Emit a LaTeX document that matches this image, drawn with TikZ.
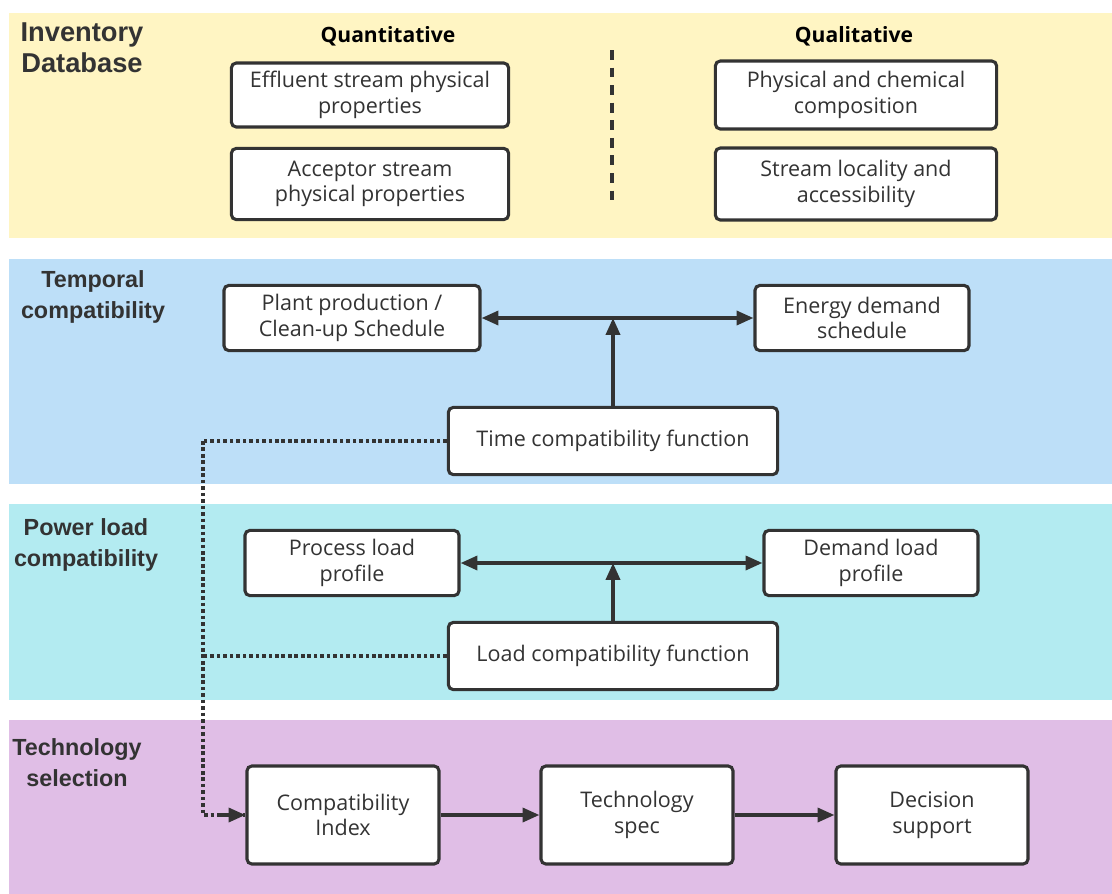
\documentclass[tikz,border=0pt]{standalone}
\usepackage{fontspec}
\setmainfont{Open Sans}
\newfontfamily\headfont{Liberation Sans}
\usetikzlibrary{arrows.meta}

\definecolor{inkgray}{HTML}{333333}
\definecolor{bandyellow}{HTML}{FFF5C3}
\definecolor{bandblue}{HTML}{BDDFF8}
\definecolor{bandcyan}{HTML}{B3EBF1}
\definecolor{bandpurple}{HTML}{E0BEE6}

\tikzset{
    >={Triangle[length=12pt,width=10pt]},
    box/.style={draw=inkgray, line width=2.2pt, rounded corners=3.5pt, fill=white,
        align=center, text=inkgray, font=\fontsize{15.3}{18.2}\selectfont, inner sep=2pt},
    bandtitle/.style={align=center, text=inkgray, font=\headfont\bfseries\fontsize{16.6}{22}\selectfont},
    coltitle/.style={font=\bfseries\fontsize{15}{18}\selectfont},
    arr/.style={draw=inkgray, line width=2.4pt, ->},
    dotline/.style={draw=inkgray, line width=2.4pt, dash pattern=on 2.6pt off 2pt},
}

\begin{document}
\begin{tikzpicture}[x=0.025cm, y=-0.025cm]
    \useasboundingbox (0,0) rectangle (1112,894);

    % bands
    \fill[bandyellow] (9,13) rectangle (1112,238);
    \fill[bandblue] (9,259) rectangle (1112,484);
    \fill[bandcyan] (9,504) rectangle (1112,700);
    \fill[bandpurple] (9,720) rectangle (1112,894);

    % inventory database
    \node[bandtitle, font=\headfont\bfseries\fontsize{19.4}{22}\selectfont] (invt) at (82,48) {Inventory\\Database};
    \node[coltitle] (quant) at (388,36) {Quantitative};
    \node[coltitle] (qual) at (854,36) {Qualitative};
    \draw[inkgray, line width=2.4pt, dash pattern=on 7pt off 5.5pt] (612,50) -- (612,208);
    \node[box, minimum width=6.93cm, minimum height=1.6cm] (eff) at (370,95) {Effluent stream physical\\properties};
    \node[box, minimum width=6.93cm, minimum height=1.78cm] (acc) at (370,184) {Acceptor stream\\physical properties};
    \node[box, minimum width=7.03cm, minimum height=1.7cm] (chem) at (856,95) {Physical and chemical\\composition};
    \node[box, minimum width=7.03cm, minimum height=1.8cm] (loc) at (856,184) {Stream locality and\\accessibility};

    % temporal compatibility
    \node[bandtitle] (tempt) at (93,297) {Temporal\\compatibility};
    \node[box, minimum width=6.4cm, minimum height=1.63cm] (plant) at (352,318) {Plant production /\\Clean-up Schedule};
    \node[box, minimum width=5.35cm, minimum height=1.63cm] (energy) at (862,318) {Energy demand\\schedule};
    \node[box, minimum width=8.23cm, minimum height=1.68cm] (timef) at (613,441) {Time compatibility function};
    \draw[arr, <->] (plant) -- (energy);
    \draw[arr] (timef.north) -- (timef.north |- plant.east);

    % power load compatibility
    \node[bandtitle] (powt) at (86,545) {Power load\\compatibility};
    \node[box, minimum width=5.35cm, minimum height=1.63cm] (proc) at (352,563) {Process load\\profile};
    \node[box, minimum width=5.35cm, minimum height=1.63cm] (dem) at (871,563) {Demand load\\profile};
    \node[box, minimum width=8.23cm, minimum height=1.68cm] (loadf) at (613,656) {Load compatibility function};
    \draw[arr, <->] (proc) -- (dem);
    \draw[arr] (loadf.north) -- (loadf.north |- proc.east);

    % technology selection
    \node[bandtitle] (techt) at (77,763) {Technology\\selection};
    \node[box, minimum width=4.8cm, minimum height=2.45cm] (ci) at (343,815) {Compatibility\\Index};
    \node[box, minimum width=4.8cm, minimum height=2.45cm] (ts) at (637,815) {Technology\\spec};
    \node[box, minimum width=4.8cm, minimum height=2.45cm] (ds) at (932,815) {Decision\\support};
    \draw[arr] (ci) -- (ts);
    \draw[arr] (ts) -- (ds);

    % dotted feed into the index
    \coordinate (tap) at (203,441);
    \draw[dotline] (timef.west) -- (tap);
    \draw[dotline] (loadf.west) -- (tap |- loadf.west);
    \draw[dotline] (tap) |- (ci.west);
    \draw[arr] ([xshift=-20]ci.west) -- (ci.west);
\end{tikzpicture}
\end{document}
